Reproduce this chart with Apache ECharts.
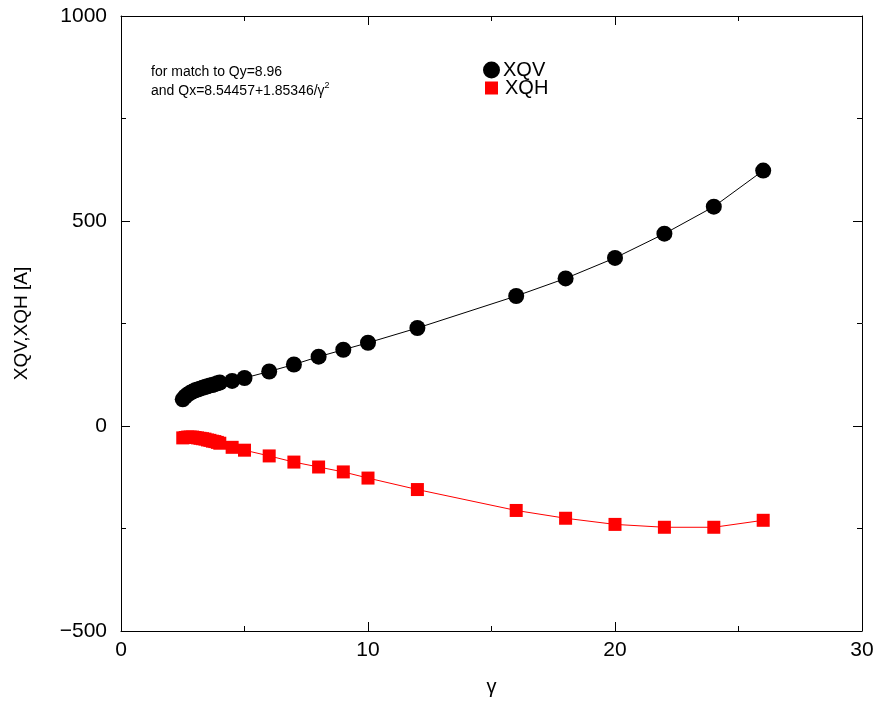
<!DOCTYPE html>
<html>
<head>
<meta charset="utf-8">
<script src="https://cdn.jsdelivr.net/npm/echarts@6/dist/echarts.min.js"></script>
<style>
html,body{margin:0;padding:0;background:#fff;}
#chart{width:878px;height:702px;}
</style>
</head>
<body>
<div id="chart"></div>
<script>
var gamma = [2.5,2.6,2.7,2.8,2.9,3.0,3.1,3.2,3.3,3.4,3.5,3.6,3.7,3.8,3.9,4.0,4.5,5,6,7,8,9,10,12,16,18,20,22,24,26];
var xqv = [65,72,77,81,84,87,89,91,93,95,97,99,100,102,104,106,110,117,133,150,169,186,203,239,317,360,410,469,535,623];
var xqh = [-29,-28,-27,-27,-27,-28,-29,-30,-31,-32,-34,-35,-37,-38,-40,-42,-52,-59,-73,-88,-100,-112,-127,-155,-206,-225,-240,-247,-247,-230];
var xTicks = [0,10,20,30];
var yTicks = [-500,0,500,1000];
var seriesNames = ['XQV','XQH'];
var note1 = 'for match to Qy=8.96';
var note2 = 'and Qx=8.54457+1.85346/γ';

function pairs(xs, ys){ return xs.map(function(x,i){ return [x, ys[i]]; }); }
function fmt(v){ return String(v).replace('-', '\u2212'); }

var FONT = 'Liberation Sans, Arial, sans-serif';
var chart = echarts.init(document.getElementById('chart'), null, {renderer:'canvas'});

var baseX = {
  type:'value', min:xTicks[0], max:xTicks[xTicks.length-1], interval:10,
  axisLine:{show:true, onZero:false, lineStyle:{color:'#000', width:1}},
  axisTick:{show:true, inside:true, length:9, lineStyle:{color:'#000'}},
  minorTick:{show:true, splitNumber:2, length:5, lineStyle:{color:'#000'}},
  splitLine:{show:false}
};
var baseY = {
  type:'value', min:yTicks[0], max:yTicks[yTicks.length-1], interval:500,
  axisLine:{show:true, onZero:false, lineStyle:{color:'#000', width:1}},
  axisTick:{show:true, inside:true, length:9, lineStyle:{color:'#000'}},
  minorTick:{show:true, splitNumber:2, length:5, lineStyle:{color:'#000'}},
  splitLine:{show:false}
};

var option = {
  backgroundColor:'#fff',
  animation:false,
  grid:{left:121, right:16, top:16, bottom:67, containLabel:false},
  title:{
    left:146, top:58,
    text:'{a|' + note1 + '}\n{a|' + note2 + '}{s|2}',
    textStyle:{
      fontWeight:'normal',
      rich:{
        a:{fontFamily:FONT, fontSize:14, fontWeight:'normal', color:'#000', lineHeight:19},
        s:{fontFamily:FONT, fontSize:9, fontWeight:'normal', color:'#000', lineHeight:19, padding:[0,0,12,0]}
      }
    }
  },
  legend:[
    {data:[{name:seriesNames[0], icon:'circle'}], left:478, top:55, itemWidth:17, itemHeight:17, itemGap:0,
     textStyle:{fontFamily:FONT, fontSize:20, color:'#000', padding:[0,0,0,-2]}},
    {data:[{name:seriesNames[1], icon:'rect'}], left:480, top:73, itemWidth:13, itemHeight:13, itemGap:0,
     textStyle:{fontFamily:FONT, fontSize:20, color:'#000', padding:[0,0,0,2]}}
  ],
  xAxis:[
    Object.assign({}, baseX, {
      position:'bottom',
      name:'γ', nameLocation:'middle', nameGap:46,
      nameTextStyle:{fontFamily:FONT, fontSize:20, color:'#000'},
      axisLabel:{show:true, fontFamily:FONT, fontSize:21, color:'#000', margin:9, formatter:fmt}
    }),
    Object.assign({}, baseX, {position:'top', axisLabel:{show:false}})
  ],
  yAxis:[
    Object.assign({}, baseY, {
      position:'left',
      name:'XQV,XQH [A]', nameLocation:'middle', nameGap:90, nameRotate:90,
      nameTextStyle:{fontFamily:FONT, fontSize:19, color:'#000'},
      axisLabel:{show:true, fontFamily:FONT, fontSize:21, color:'#000', margin:14, formatter:fmt}
    }),
    Object.assign({}, baseY, {position:'right', axisLabel:{show:false}})
  ],
  series:[
    {
      name:seriesNames[0], type:'line', xAxisIndex:0, yAxisIndex:0,
      data:pairs(gamma, xqv),
      symbol:'circle', symbolSize:16,
      itemStyle:{color:'#000'},
      lineStyle:{color:'#000', width:1}
    },
    {
      name:seriesNames[1], type:'line', xAxisIndex:0, yAxisIndex:0,
      data:pairs(gamma, xqh),
      symbol:'rect', symbolSize:13,
      itemStyle:{color:'#ff0000'},
      lineStyle:{color:'#ff0000', width:1}
    }
  ]
};
chart.setOption(option);
</script>
</body>
</html>
